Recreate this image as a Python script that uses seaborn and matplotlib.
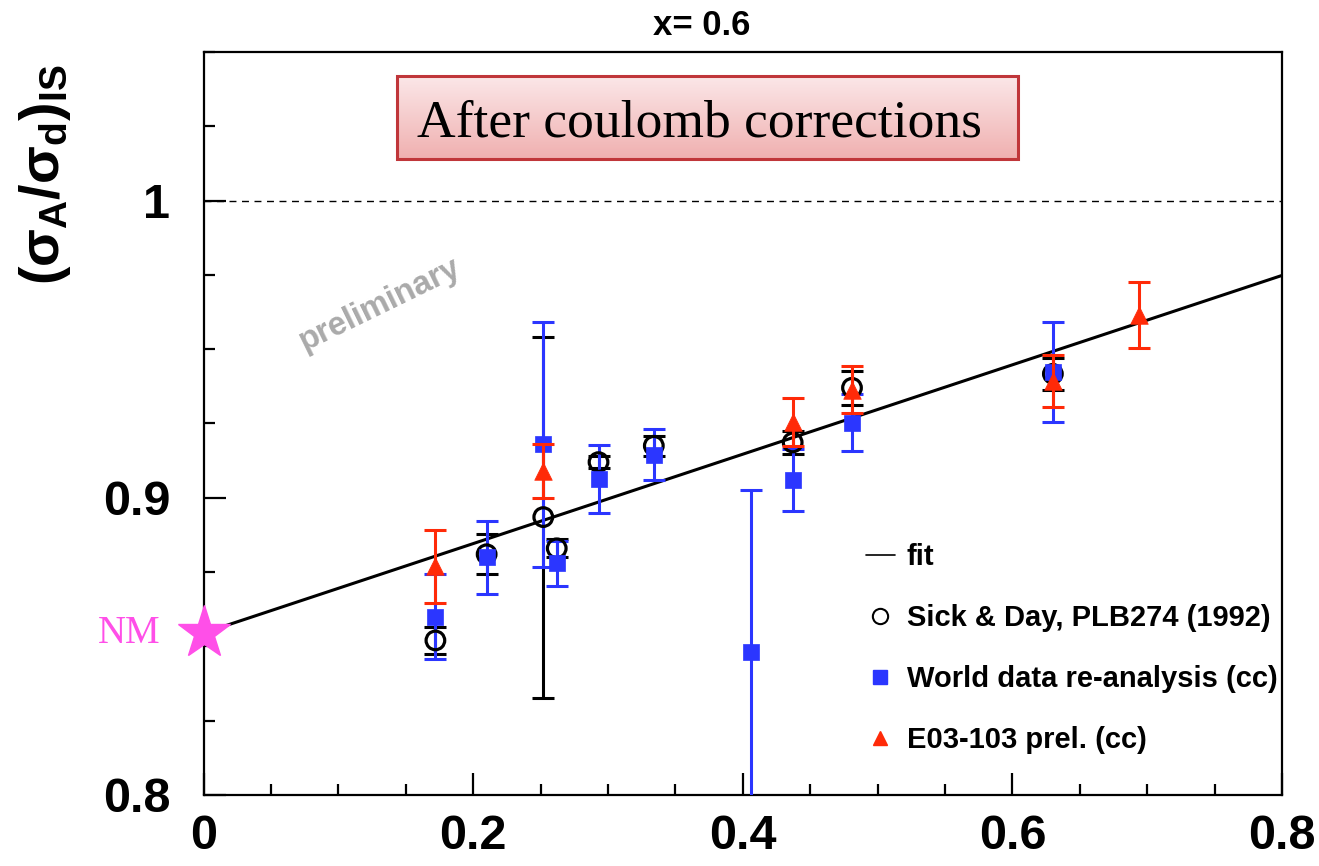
import numpy as np
import pandas as pd
import matplotlib
matplotlib.use("Agg")
import matplotlib.pyplot as plt
from matplotlib.patches import Rectangle
from matplotlib.lines import Line2D
import seaborn as sns

# ---- data ----
sick_x = [0.172, 0.210, 0.252, 0.262, 0.293, 0.334, 0.437, 0.481, 0.630]
sick_y = [0.852, 0.881, 0.8935, 0.883, 0.912, 0.9175, 0.9186, 0.937, 0.9417]
sick_err = [0.0045, 0.0068, 0.0607, 0.003, 0.002, 0.0034, 0.004, 0.0058, 0.0053]

world_x = [0.172, 0.210, 0.252, 0.262, 0.293, 0.334, 0.406, 0.437, 0.481, 0.630]
world_y = [0.860, 0.880, 0.918, 0.878, 0.9064, 0.9145, 0.848, 0.9059, 0.9253, 0.9423]
world_err = [0.0143, 0.0123, 0.0413, 0.0076, 0.0114, 0.0086, 0.0547, 0.0104, 0.0096, 0.0168]

e03_x = [0.172, 0.252, 0.437, 0.481, 0.630, 0.694]
e03_y = [0.877, 0.909, 0.9255, 0.9364, 0.9393, 0.9616]
e03_err = [0.0123, 0.0092, 0.0082, 0.008, 0.0089, 0.0111]

fit_intercept = 0.8545
fit_slope = 0.1504
nm_x = [0.0]
nm_y = [0.8545]

x_ticks = [0.0, 0.2, 0.4, 0.6, 0.8]
x_tick_labels = ["0", "0.2", "0.4", "0.6", "0.8"]
y_ticks = [0.8, 0.9, 1.0]
y_tick_labels = ["0.8", "0.9", "1"]

BLUE = "#2b36ff"
RED = "#ff2a08"
MAGENTA = "#ff4fe8"

sns.set_theme(style="white")
plt.rcParams["font.family"] = ["Liberation Sans", "DejaVu Sans"]
plt.rcParams["text.color"] = "black"
plt.rcParams["axes.labelcolor"] = "black"
plt.rcParams["xtick.color"] = "black"
plt.rcParams["ytick.color"] = "black"
plt.rcParams["mathtext.fontset"] = "custom"
plt.rcParams["mathtext.rm"] = "Liberation Sans:bold"
plt.rcParams["mathtext.it"] = "Liberation Sans:bold"
plt.rcParams["mathtext.bf"] = "Liberation Sans:bold"
plt.rcParams["mathtext.sf"] = "Liberation Sans:bold"

fig = plt.figure(figsize=(13.19, 8.66), dpi=100)
ax = fig.add_axes([0.1543, 0.082, 0.8177, 0.858])

# fit line
fit_x = np.array([0.0, 0.8])
fit_df = pd.DataFrame({"x": fit_x, "y": fit_intercept + fit_slope * fit_x})
sns.lineplot(data=fit_df, x="x", y="y", ax=ax, color="black", lw=2.2, zorder=2)

# reference line at unity
ax.axhline(1.0, color="black", lw=1.0, ls=(0, (5, 4)), zorder=1)

# error bars: Sick & Day, world data, E03-103
cap_kw = dict(fmt="none", capsize=8, capthick=2.2, elinewidth=2.2)
ax.errorbar(sick_x, sick_y, yerr=sick_err, ecolor="black", zorder=3, **cap_kw)
ax.errorbar(world_x, world_y, yerr=world_err, ecolor=BLUE, zorder=4, **cap_kw)
ax.errorbar(e03_x, e03_y, yerr=e03_err, ecolor=RED, zorder=6, **cap_kw)

sick_df = pd.DataFrame({"x": sick_x, "y": sick_y})
world_df = pd.DataFrame({"x": world_x, "y": world_y})
e03_df = pd.DataFrame({"x": e03_x, "y": e03_y})
sns.scatterplot(data=sick_df, x="x", y="y", ax=ax, marker="o", s=180,
                facecolor="none", edgecolor="black", linewidth=2.3, zorder=5)
sns.scatterplot(data=world_df, x="x", y="y", ax=ax, marker="s", s=120,
                color=BLUE, edgecolor=BLUE, linewidth=0.5, zorder=5)
sns.scatterplot(data=e03_df, x="x", y="y", ax=ax, marker="^", s=160,
                color=RED, edgecolor=RED, linewidth=0.5, zorder=7)

# nuclear matter point
ax.plot(nm_x, nm_y, marker="*", ms=40, color=MAGENTA, mec=MAGENTA,
        ls="none", clip_on=False, zorder=8)
ax.text(-0.055, nm_y[0], "NM", color=MAGENTA, fontsize=28,
        family=["Liberation Serif"], ha="center", va="center")

ax.set_xlim(0, 0.8)
ax.set_ylim(0.8, 1.05)

# header box with gradient fill
bx0, bx1, by0, by1 = 0.1435, 0.604, 1.0141, 1.042
grad = np.linspace(0, 1, 100).reshape(-1, 1)
top_c = np.array([0.985, 0.905, 0.91])
bot_c = np.array([0.94, 0.69, 0.69])
img = top_c[None, None, :] * (1 - grad[:, :, None]) + bot_c[None, None, :] * grad[:, :, None]
ax.imshow(img, extent=[bx0, bx1, by0, by1], origin="upper", aspect="auto", zorder=3)
ax.add_patch(Rectangle((bx0, by0), bx1 - bx0, by1 - by0, fill=False,
                       edgecolor="#c0363a", lw=2.2, zorder=4))
ax.text((bx0 + bx1) / 2 - 0.006, (by0 + by1) / 2 - 0.0022, "After coulomb corrections",
        family=["Liberation Serif"], fontsize=38.5, ha="center", va="center", zorder=5)
ax.set_xlim(0, 0.8)
ax.set_ylim(0.8, 1.05)

ax.text(0.131, 0.9650, "preliminary", color="#aaaaaa", fontsize=23.5,
        fontweight="bold", rotation=26, ha="center", va="center", zorder=1)

# ticks
ax.set_xticks(x_ticks)
ax.set_xticklabels(x_tick_labels)
ax.set_yticks(y_ticks)
ax.set_yticklabels(y_tick_labels)
ax.set_xticks(np.arange(0, 0.8001, 0.05), minor=True)
ax.set_yticks(np.arange(0.8, 1.0501, 0.025), minor=True)
ax.tick_params(which="both", direction="in", color="black", width=1.6,
               top=False, right=False, bottom=True, left=True)
ax.tick_params(which="major", length=16)
ax.tick_params(which="minor", length=8)
ax.tick_params(axis="x", which="major", pad=14, labelsize=35, labelcolor="black")
ax.tick_params(axis="y", which="major", pad=24, labelsize=35, labelcolor="black")
for lab in ax.get_xticklabels() + ax.get_yticklabels():
    lab.set_fontweight("bold")
for sp in ax.spines.values():
    sp.set_visible(True)
    sp.set_color("black")
    sp.set_linewidth(1.6)
ax.set_xlabel("")
ax.set_ylabel("")

# titles
fig.text(0.532, 0.970, "x= 0.6", fontsize=25, fontweight="bold",
         ha="center", va="center", color="black")
fig.text(0.034, 0.798, r"$(σ_A/σ_d)_{IS}$", fontsize=40, rotation=90,
         ha="center", va="center", color="black")

# legend
handles = [
    Line2D([], [], color="black", lw=1.2),
    Line2D([], [], marker="o", ls="none", mfc="none", mec="black", ms=11, mew=1.5),
    Line2D([], [], marker="s", ls="none", color=BLUE, ms=10),
    Line2D([], [], marker="^", ls="none", color=RED, ms=10),
]
labels = ["fit", "Sick & Day, PLB274 (1992)", "World data re-analysis (cc)",
          "E03-103 prel. (cc)"]
leg = ax.legend(handles, labels, loc="upper left", bbox_to_anchor=(0.614, 0.339),
                frameon=False, fontsize=21, handlelength=1.0, handletextpad=0.4,
                labelspacing=1.13, borderpad=0, borderaxespad=0)
for t in leg.get_texts():
    t.set_fontweight("bold")
    t.set_color("black")

fig.savefig("out.png", dpi=100)
